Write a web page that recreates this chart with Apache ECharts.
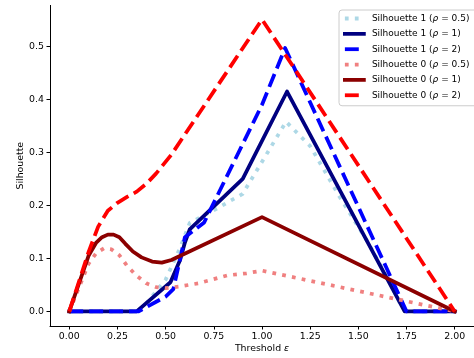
<!DOCTYPE html>
<html>
<head>
<meta charset="utf-8">
<script src="https://cdn.jsdelivr.net/npm/echarts@6/dist/echarts.min.js"></script>
<style>
  html, body { margin: 0; padding: 0; background: #fff; }
  #chart { width: 474px; height: 358px; }
</style>
</head>
<body>
<div id="chart"></div>
<script>
const xTicks = [0, 0.25, 0.5, 0.75, 1, 1.25, 1.5, 1.75, 2]
const yTicks = [0, 0.1, 0.2, 0.3, 0.4, 0.5]

// [threshold, silhouette]
const sil1Half = [[0, 0], [0.35, 0], [0.4, 0.015], [0.5, 0.06], [0.575, 0.12], [0.625, 0.167], [0.77, 0.195], [0.9, 0.222], [1.125, 0.358], [1.25, 0.312], [1.4, 0.218], [1.55, 0.13], [1.65, 0.065], [1.72, 0.012], [1.75, 0], [2, 0]]
const sil1One = [[0, 0], [0.35, 0], [0.525, 0.055], [0.575, 0.097], [0.6, 0.13], [0.625, 0.155], [0.9, 0.25], [1.13, 0.415], [1.74, 0], [2, 0]]
const sil1Two = [[0, 0], [0.36, 0], [0.5, 0.028], [0.54, 0.042], [0.6, 0.14], [0.7, 0.168], [1.0, 0.39], [1.12, 0.497], [1.75, 0], [2, 0]]
const sil0Half = [[0, 0], [0.1, 0.09], [0.14, 0.11], [0.18, 0.119], [0.22, 0.117], [0.26, 0.106], [0.3, 0.086], [0.35, 0.067], [0.4, 0.053], [0.45, 0.046], [0.5, 0.044], [0.57, 0.047], [0.67, 0.053], [0.82, 0.068], [0.92, 0.072], [1.0, 0.077], [2.0, 0]]
const sil0One = [[0, 0], [0.1, 0.105], [0.14, 0.13], [0.17, 0.14], [0.2, 0.145], [0.23, 0.145], [0.26, 0.14], [0.29, 0.128], [0.33, 0.113], [0.375, 0.102], [0.43, 0.094], [0.48, 0.092], [0.53, 0.097], [1.0, 0.178], [2.0, 0]]
const sil0Two = [[0, 0], [0.1, 0.112], [0.15, 0.16], [0.2, 0.19], [0.25, 0.205], [0.3, 0.216], [0.35, 0.226], [0.4, 0.241], [0.45, 0.26], [0.53, 0.296], [1.0, 0.551], [2.0, 0]]

const seriesNames = [
  "Silhouette 1 (ρ = 0.5)", "Silhouette 1 (ρ = 1)", "Silhouette 1 (ρ = 2)",
  "Silhouette 0 (ρ = 0.5)", "Silhouette 0 (ρ = 1)", "Silhouette 0 (ρ = 2)",
]
const seriesData = [sil1Half, sil1One, sil1Two, sil0Half, sil0One, sil0Two]
const seriesColors = ["#add8e6", "#000080", "#0000ff", "#f08080", "#8b0000", "#ff0000"]

const lw = 3.76
const dotted = [lw, 1.65 * lw]
const dashed = [3.7 * lw, 1.6 * lw]
const seriesDash = [dotted, "solid", dashed, dotted, "solid", dashed]

const font = "DejaVu Sans"
const fs = 9.4
const legendFs = 9

const chart = echarts.init(document.getElementById("chart"), null, { renderer: "canvas" })

const series = seriesNames.map((name, i) => ({
  name: name,
  type: "line",
  data: seriesData[i],
  symbol: "none",
  color: seriesColors[i],
  z: 2 + i,
  itemStyle: { color: seriesColors[i] },
  lineStyle: {
    color: seriesColors[i],
    width: lw,
    type: seriesDash[i],
    cap: seriesDash[i] === "solid" ? "square" : "butt",
    join: "round",
  },
}))

chart.setOption({
  animation: false,
  color: seriesColors,
  textStyle: { fontFamily: font },
  grid: { left: 50, top: 5.4, width: 431.2, height: 320.6, containLabel: false },
  legend: {
    data: seriesNames,
    orient: "vertical",
    left: 339,
    top: 10,
    padding: [3, 14, 5, 4],
    itemWidth: 19,
    itemHeight: 11,
    itemGap: 4.35,
    backgroundColor: "rgba(255,255,255,0.8)",
    borderColor: "#cccccc",
    borderWidth: 1,
    borderRadius: 3,
    itemStyle: { opacity: 0 },
    lineStyle: { width: lw },
    formatter: (name) => {
      const m = name.match(/^(Silhouette \d \()ρ( = [\d.]+\))$/)
      return "{a|" + m[1] + "}{i|ρ}{b|" + m[2] + "}"
    },
    textStyle: {
      fontFamily: font,
      fontSize: legendFs,
      color: "#000",
      lineHeight: 11,
      rich: {
        a: { fontFamily: font, fontSize: legendFs, color: "#000", padding: [0, 0, 0, 3] },
        i: { fontFamily: font, fontSize: legendFs, color: "#000", fontStyle: "italic" },
        b: { fontFamily: font, fontSize: legendFs, color: "#000" },
      },
    },
  },
  xAxis: {
    type: "value",
    min: -0.1,
    max: 2.1,
    name: "{t|Threshold }{e|ε}",
    nameLocation: "middle",
    nameGap: 18,
    nameMoveOverlap: false,
    nameTextStyle: {
      verticalAlign: "top",
      rich: {
        t: { fontFamily: font, fontSize: fs, color: "#000" },
        e: { fontFamily: font, fontSize: fs, color: "#000", fontStyle: "italic" },
      },
    },
    axisLine: { show: true, onZero: false, lineStyle: { color: "#000", width: 1 } },
    axisTick: { show: true, length: 3.5, customValues: xTicks, lineStyle: { color: "#000", width: 1 } },
    axisLabel: {
      customValues: xTicks,
      margin: 6,
      color: "#000",
      fontFamily: font,
      fontSize: fs,
      formatter: (v) => v.toFixed(2),
    },
    splitLine: { show: false },
  },
  yAxis: {
    type: "value",
    min: -0.0275,
    max: 0.5775,
    name: "Silhouette",
    nameLocation: "middle",
    nameGap: 25,
    nameMoveOverlap: false,
    nameTextStyle: { fontFamily: font, fontSize: fs, color: "#000" },
    axisLine: { show: true, onZero: false, lineStyle: { color: "#000", width: 1 } },
    axisTick: { show: true, length: 3.5, customValues: yTicks, lineStyle: { color: "#000", width: 1 } },
    axisLabel: {
      customValues: yTicks,
      margin: 6,
      color: "#000",
      fontFamily: font,
      fontSize: fs,
      formatter: (v) => v.toFixed(1),
    },
    splitLine: { show: false },
  },
  series: series,
})
</script>
</body>
</html>
